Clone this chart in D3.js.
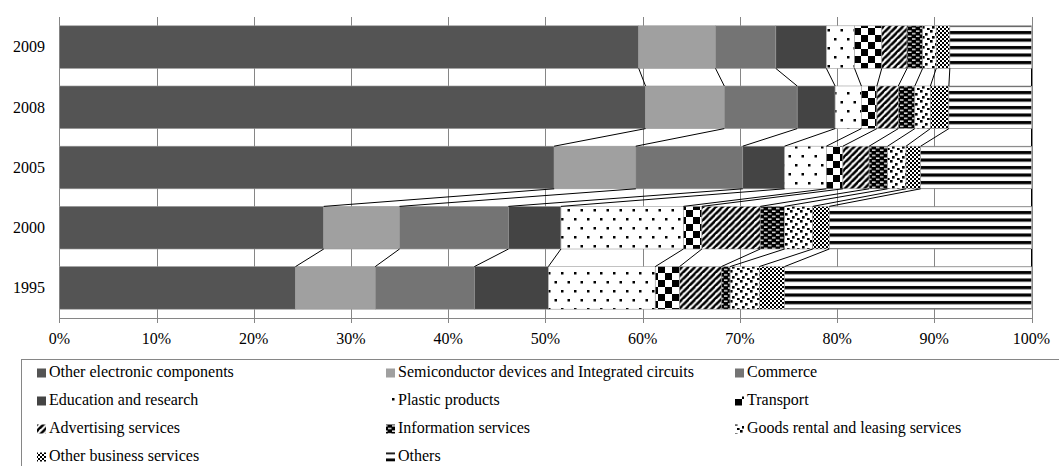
<!DOCTYPE html>
<html>
<head>
<meta charset="utf-8">
<script src="https://cdn.jsdelivr.net/npm/d3@7/dist/d3.min.js"></script>
<style>
  html, body { margin: 0; padding: 0; background: #fff; }
  svg { display: block; font-family: "Liberation Serif", "Times New Roman", serif; }
</style>
</head>
<body>
<svg id="chart" width="1059" height="466"></svg>
<script>
// Years, top to bottom
const years = ["2009", "2008", "2005", "2000", "1995"];

// Shares (%) by sector, in the order of `years`
const otherElectronic   = [59.6, 60.3, 50.9, 27.2, 24.3];
const semiconductor     = [7.9, 8.1, 8.4, 7.8, 8.2];
const commerce          = [6.2, 7.5, 11.0, 11.2, 10.2];
const education         = [5.2, 3.9, 4.3, 5.4, 7.6];
const plastic           = [2.9, 2.7, 4.3, 12.6, 11.0];
const transport         = [2.8, 1.6, 1.7, 1.9, 2.5];
const advertising       = [2.6, 2.2, 2.7, 6.0, 4.3];
const information       = [1.6, 1.7, 1.9, 2.5, 0.9];
const goodsRental       = [1.4, 1.6, 1.9, 2.9, 3.0];
const otherBusiness     = [1.4, 1.9, 1.5, 1.7, 2.6];
const others            = [8.4, 8.5, 11.4, 20.8, 25.4];

const seriesNames = [
  "Other electronic components",
  "Semiconductor devices and Integrated circuits",
  "Commerce",
  "Education and research",
  "Plastic products",
  "Transport",
  "Advertising services",
  "Information services",
  "Goods rental and leasing services",
  "Other business services",
  "Others"
];
const seriesValues = [otherElectronic, semiconductor, commerce, education, plastic,
  transport, advertising, information, goodsRental, otherBusiness, others];

const xTicks = [0, 0.1, 0.2, 0.3, 0.4, 0.5, 0.6, 0.7, 0.8, 0.9, 1.0];

// Rows for d3.stack
const rows = years.map((yr, i) => {
  const r = { year: yr };
  seriesNames.forEach((n, k) => { r[n] = seriesValues[k][i]; });
  return r;
});

const svg = d3.select("#chart");
const defs = svg.append("defs");

// ---- fill patterns ----
function pat(id, w, h, build) {
  const p = defs.append("pattern").attr("id", id)
    .attr("patternUnits", "userSpaceOnUse").attr("width", w).attr("height", h);
  build(p);
  return "url(#" + id + ")";
}
const fills = {};
fills["Other electronic components"] = "#545454";
fills["Semiconductor devices and Integrated circuits"] = "#a0a0a0";
fills["Commerce"] = "#747474";
fills["Education and research"] = "#444444";
fills["Plastic products"] = pat("pDots", 13, 18, p => {
  p.append("rect").attr("width", 13).attr("height", 18).attr("fill", "#fff");
  p.append("rect").attr("x", 2).attr("y", 2).attr("width", 2.5).attr("height", 2.5).attr("fill", "#000");
  p.append("rect").attr("x", 8.5).attr("y", 11).attr("width", 2.5).attr("height", 2.5).attr("fill", "#000");
});
fills["Transport"] = pat("pChecker", 14, 14, p => {
  p.append("rect").attr("width", 14).attr("height", 14).attr("fill", "#fff");
  p.append("rect").attr("width", 7).attr("height", 7).attr("fill", "#000");
  p.append("rect").attr("x", 7).attr("y", 7).attr("width", 7).attr("height", 7).attr("fill", "#000");
});
fills["Advertising services"] = pat("pDiag", 6.5, 6.5, p => {
  p.append("rect").attr("width", 6.5).attr("height", 6.5).attr("fill", "#fff");
  p.append("path").attr("d", "M-1,7.5 L7.5,-1 M-2,1.5 L1.5,-2 M5,8 L8,5")
    .attr("stroke", "#000").attr("stroke-width", 2.6);
});
fills["Information services"] = pat("pBrick", 8, 5.3, p => {
  p.append("rect").attr("width", 8).attr("height", 5.3).attr("fill", "#000");
  p.append("rect").attr("x", 0).attr("y", 1.2).attr("width", 3.5).attr("height", 1.3).attr("fill", "#fff");
  p.append("rect").attr("x", 4).attr("y", 3.9).attr("width", 3.5).attr("height", 1.3).attr("fill", "#fff");
});
fills["Goods rental and leasing services"] = pat("pConfetti", 10, 10, p => {
  p.append("rect").attr("width", 10).attr("height", 10).attr("fill", "#fff");
  [[0, 0], [5, 3], [2, 6], [7, 8]].forEach(([x, y]) =>
    p.append("rect").attr("x", x).attr("y", y).attr("width", 2.6).attr("height", 2.6).attr("fill", "#000"));
});
fills["Other business services"] = pat("pSmallCheck", 4, 4, p => {
  p.append("rect").attr("width", 4).attr("height", 4).attr("fill", "#fff");
  p.append("rect").attr("width", 2).attr("height", 2).attr("fill", "#000");
  p.append("rect").attr("x", 2).attr("y", 2).attr("width", 2).attr("height", 2).attr("fill", "#000");
});
fills["Others"] = pat("pHoriz", 10, 7.5, p => {
  p.append("rect").attr("width", 10).attr("height", 7.5).attr("fill", "#fff");
  p.append("rect").attr("y", 1).attr("width", 10).attr("height", 3.2).attr("fill", "#000");
});

// ---- scales ----
const x = d3.scaleLinear().domain([0, 1]).range([59.3, 1031.5]);
const y = d3.scaleBand().domain(years).range([17, 318]).paddingInner(0.292).paddingOuter(0.146);

const stack = d3.stack().keys(seriesNames).offset(d3.stackOffsetExpand);
const layers = stack(rows);

const gridColor = "#868686";

// vertical gridlines, extended below the axis as tick marks
svg.append("g").selectAll("line").data(xTicks).join("line")
  .attr("x1", d => Math.round(x(d)) + 0.5).attr("x2", d => Math.round(x(d)) + 0.5)
  .attr("y1", 17).attr("y2", 323)
  .attr("stroke", gridColor).attr("stroke-width", 1);

// horizontal axis line
svg.append("line")
  .attr("x1", x(0)).attr("x2", x(1) + 0.5)
  .attr("y1", 318.5).attr("y2", 318.5)
  .attr("stroke", gridColor).attr("stroke-width", 1);

// bars
const barG = svg.append("g");
layers.forEach(layer => {
  barG.append("g").selectAll("rect").data(layer).join("rect")
    .attr("x", d => x(d[0]))
    .attr("width", d => x(d[1]) - x(d[0]))
    .attr("y", d => y(d.data.year))
    .attr("height", y.bandwidth())
    .attr("fill", fills[layer.key])
    .attr("stroke", "#9a9a9a").attr("stroke-width", 0.6);
});

// series lines joining the end of each sector between neighbouring bars
const linesG = svg.append("g");
layers.forEach(layer => {
  for (let i = 0; i < years.length - 1; i++) {
    const upper = layer[i], lower = layer[i + 1];
    linesG.append("line")
      .attr("x1", x(lower[1])).attr("y1", y(lower.data.year))
      .attr("x2", x(upper[1])).attr("y2", y(upper.data.year) + y.bandwidth())
      .attr("stroke", "#000").attr("stroke-width", 1);
  }
});

// x tick labels
svg.append("g").selectAll("text").data(xTicks).join("text")
  .attr("x", d => x(d)).attr("y", 344)
  .attr("text-anchor", "middle")
  .attr("font-size", 16).attr("fill", "#000")
  .text(d => d3.format(".0%")(d));

// year labels
svg.append("g").selectAll("text").data(years).join("text")
  .attr("x", 45).attr("y", d => y(d) + y.bandwidth() / 2 + 5.3)
  .attr("text-anchor", "end")
  .attr("font-size", 16).attr("fill", "#000")
  .text(d => d);

// legend
const legendG = svg.append("g");
legendG.append("rect")
  .attr("x", 21.5).attr("y", 359.5).attr("width", 1100).attr("height", 200)
  .attr("fill", "none").attr("stroke", gridColor).attr("stroke-width", 1);

const colX = [37, 386, 735];
const rowBase = [377, 405, 433, 461];
seriesNames.forEach((name, k) => {
  const cx = colX[k % 3], by = rowBase[Math.floor(k / 3)];
  legendG.append("rect")
    .attr("x", cx).attr("y", by - 8.5).attr("width", 9).attr("height", 9)
    .attr("fill", fills[name]);
  legendG.append("text")
    .attr("x", cx + 12).attr("y", by)
    .attr("font-size", 16).attr("fill", "#000")
    .text(name);
});
</script>
</body>
</html>
